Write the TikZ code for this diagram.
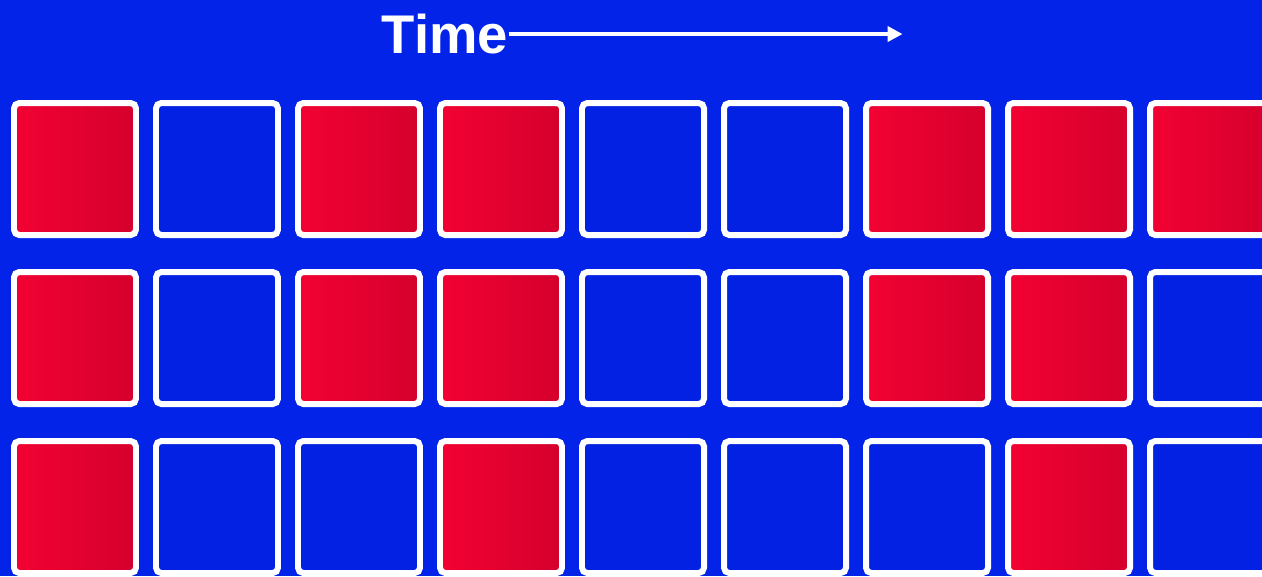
\documentclass[tikz,border=0pt]{standalone}
\usepackage{fontspec}
\setmainfont{Liberation Sans}
\usepackage{xcolor}
\usetikzlibrary{arrows.meta,positioning}
\definecolor{cBack}{HTML}{0324E8}
\definecolor{cBlue}{HTML}{0221E2}
\definecolor{cRedL}{HTML}{F20233}
\definecolor{cRedR}{HTML}{D5002D}
\tikzset{
  cell/.style={draw=white,line width=1.7pt,rounded corners=1.5pt,minimum width=1.22cm,minimum height=1.32cm,inner sep=0pt},
  redcell/.style={cell,left color=cRedL,right color=cRedR},
  bluecell/.style={cell,fill=cBlue},
  tlabel/.style={text=white,font=\fontsize{15.5}{16}\selectfont\bfseries,inner sep=0pt,anchor=base west},
  tarr/.style={-{Triangle[length=0.15cm,width=0.15cm]},line width=1.15pt,color=white},
}

\begin{document}
\begin{tikzpicture}[x=1cm,y=1cm]
    \useasboundingbox (0,0) rectangle (12.62,-5.76);
    \clip (0,0) rectangle (12.62,-5.76);
    \fill[cBack] (0,0) rectangle (12.62,-5.76);
    % time axis
    \node[tlabel] (time) at (3.81,-0.535) {Time};
    \coordinate[right=3.94cm of time.east] (tend);
    \draw[tarr] (time.east) -- (tend);
    % three rows of cells
    \foreach \row/\y/\pat in {
      1/-1.69/{redcell,bluecell,redcell,redcell,bluecell,bluecell,redcell,redcell,redcell},
      2/-3.38/{redcell,bluecell,redcell,redcell,bluecell,bluecell,redcell,redcell,bluecell},
      3/-5.07/{redcell,bluecell,bluecell,redcell,bluecell,bluecell,bluecell,redcell,bluecell}}{
      \foreach \cs [count=\col] in \pat{
        \node[\cs] (c-\row-\col) at ({0.75+1.42*(\col-1)},\y) {};
      }
    }
  \end{tikzpicture}
\end{document}
